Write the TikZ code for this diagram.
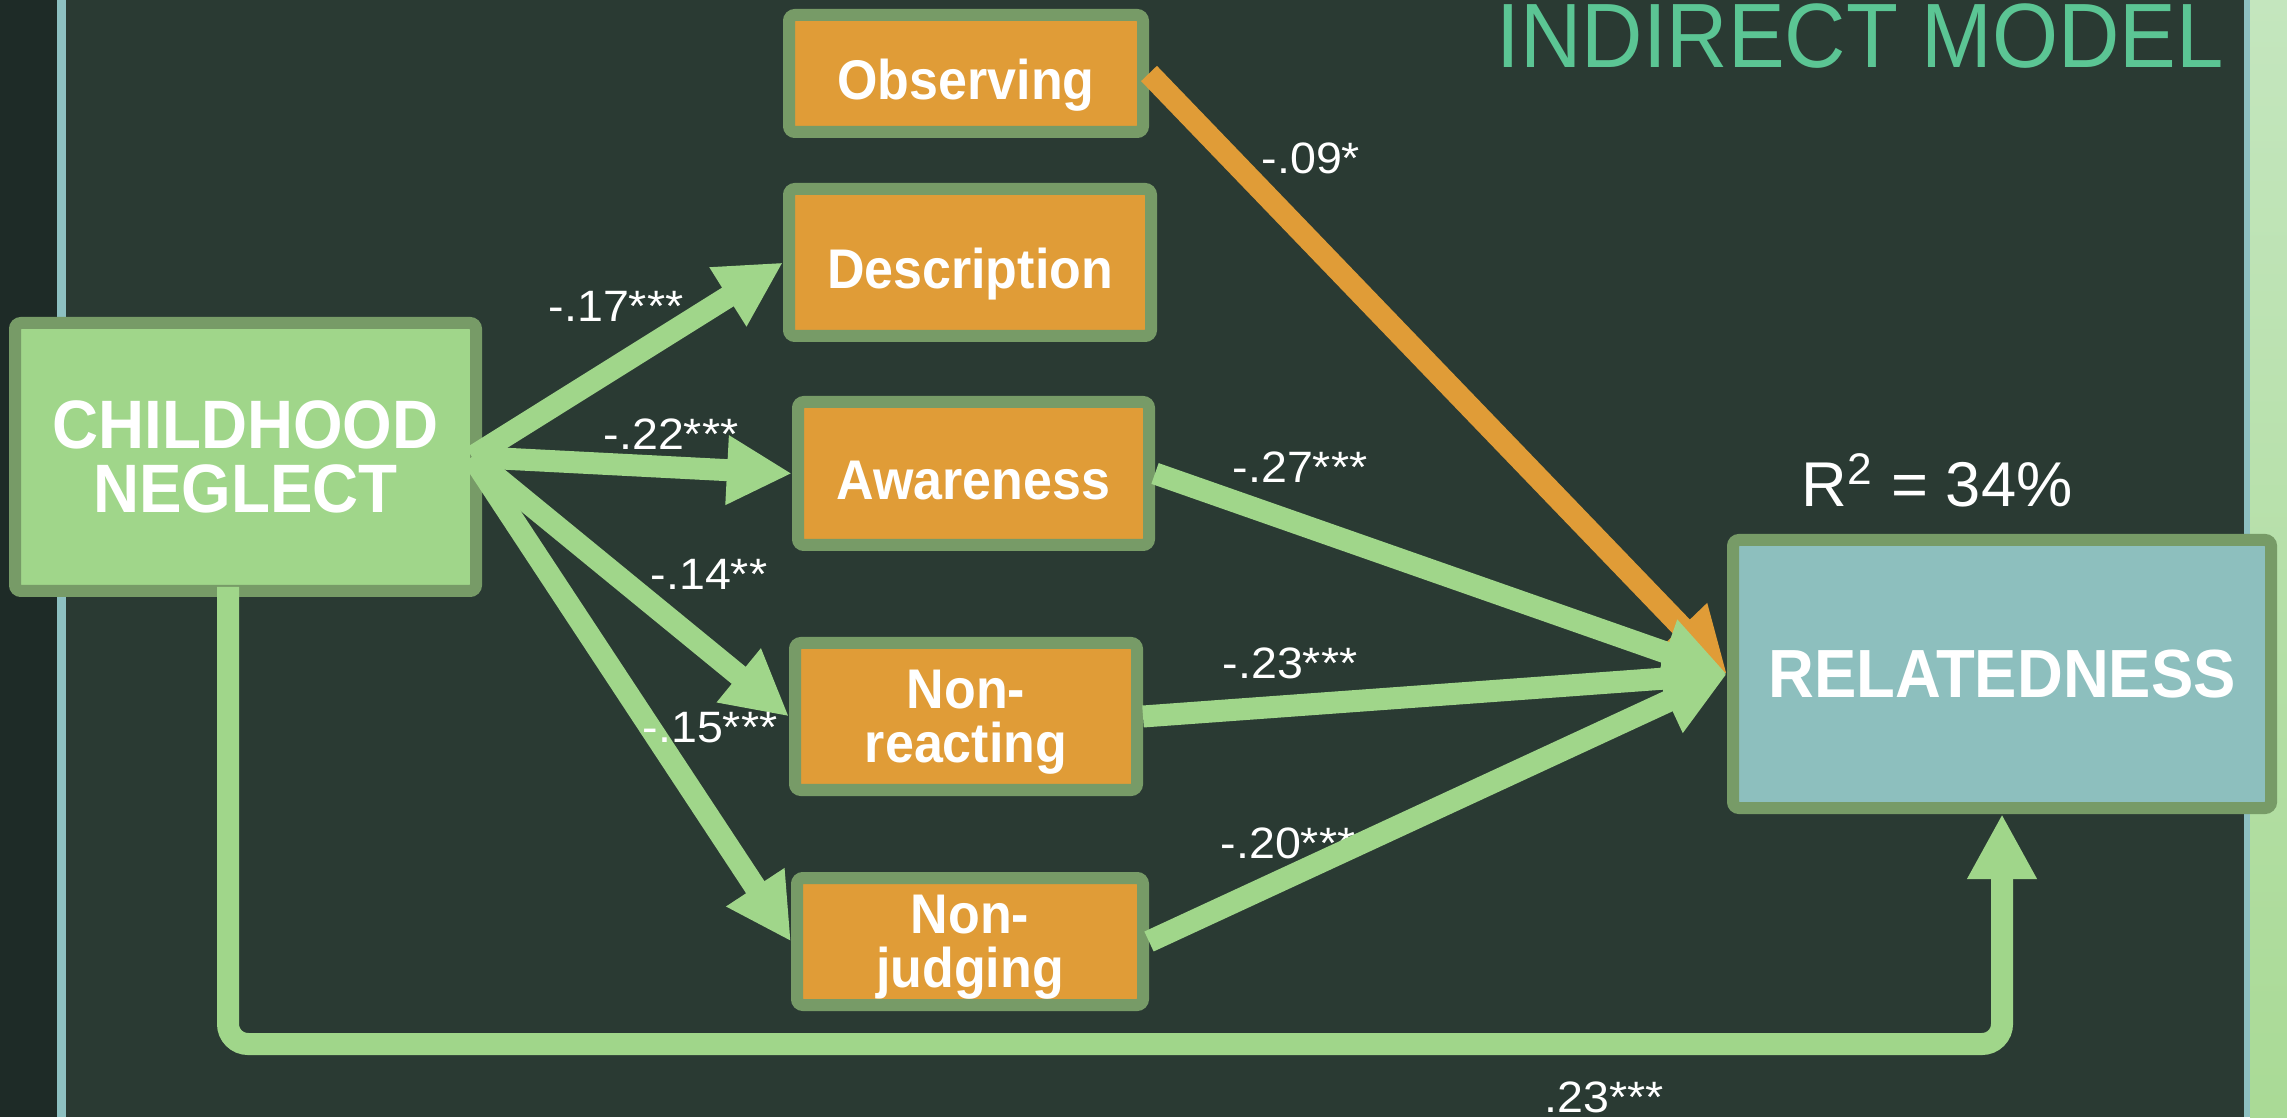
\documentclass[tikz,border=0pt]{standalone}
\usepackage{fontspec}
\setmainfont{Liberation Sans}
\newfontfamily\narrowfont[FakeStretch=0.93]{Liberation Sans}
\newfontfamily\widefont[FakeStretch=1.06]{Liberation Sans}
\usetikzlibrary{arrows.meta,positioning,calc}

\definecolor{slate}{HTML}{2A3A33}
\definecolor{slatedark}{HTML}{1E2B27}
\definecolor{stripeblue}{HTML}{8DC0C1}
\definecolor{stripegreen}{HTML}{C4E6BE}
\definecolor{leafgreen}{HTML}{A0D68A}
\definecolor{framegreen}{HTML}{779B67}
\definecolor{amber}{HTML}{E09C37}
\definecolor{outcomeblue}{HTML}{8DBFBE}
\definecolor{titlegreen}{HTML}{5BC594}

\tikzstyle{every node}=[inner sep=0pt]
\tikzstyle{box} = [draw=framegreen, line width=1.2mm, rounded corners=0.6mm, align=center, text=white]
\tikzstyle{factor} = [box, fill=amber, text depth=0pt, font=\narrowfont\bfseries\fontsize{15.9}{15.4}\selectfont]
\tikzstyle{oneline} = [text height=5.3mm]
\tikzstyle{coef} = [anchor=base west, text=white, font=\widefont\fontsize{12.5}{14}\selectfont]
\tikzstyle{path} = [draw=leafgreen, line width=2.2mm, ->]

\begin{document}
\begin{tikzpicture}[>={Triangle[length=6.5mm,width=6.5mm]}, line join=miter]
    \useasboundingbox (0,0) rectangle (22.87,11.17);
    % background
    \fill[slatedark] (0,0) rectangle (0.57,11.17);
    \fill[slate] (0.66,0) rectangle (22.44,11.17);
    \fill[stripeblue] (0.57,0) rectangle (0.66,11.17);
    \fill[stripeblue] (22.44,0) rectangle (22.50,11.17);
    \shade[top color=stripegreen, bottom color=leafgreen!90!white] (22.50,0) rectangle (22.87,11.17);

    \node[anchor=base west, text=titlegreen, font=\narrowfont\fontsize{26}{30}\selectfont] (title) at (14.96,10.49) {INDIRECT MODEL};

    \node[box, fill=leafgreen, minimum width=4.61cm, minimum height=2.68cm, font=\narrowfont\bfseries\fontsize{19.5}{18.2}\selectfont] (neglect) at (2.455,6.60) {CHILDHOOD\\NEGLECT};

    \node[factor, oneline, minimum width=3.54cm, minimum height=1.17cm] (observing) at (9.66,10.435) {Observing};
    \node[factor, oneline, minimum width=3.62cm, minimum height=1.47cm] (description) at (9.70,8.545) {Description};
    \node[factor, oneline, minimum width=3.51cm, minimum height=1.43cm] (awareness) at (9.735,6.435) {Awareness};
    \node[factor, minimum width=3.42cm, minimum height=1.47cm] (nonreacting) at (9.66,4.005) {Non-\\reacting};
    \node[factor, minimum width=3.46cm, minimum height=1.27cm] (nonjudging) at (9.70,1.755) {Non-\\judging};

    \node[box, fill=outcomeblue, minimum width=5.38cm, minimum height=2.68cm, font=\narrowfont\bfseries\fontsize{19.4}{22}\selectfont] (relatedness) at (20.02,4.43) {RELATEDNESS};
    \node[anchor=base west, text=white, font=\fontsize{18}{22}\selectfont] (rsquare) at (18.01,6.10) {R\textsuperscript{2} = 34\%};

    % -.20*** sits under its arrow
    \node[coef] (c20) at (12.20,2.59) {-.20***};

    \coordinate (src) at ($(neglect.east)+(-0.1,0)$);
    \draw[path] (src) -- (description.west);
    \draw[path] (src) -- (awareness.west);
    \draw[path] (src) -- (nonreacting.west);
    \draw[path] (src) -- (nonjudging.west);

    \draw[path, draw=amber] (observing.east) -- (relatedness.west);
    \draw[path] (awareness.east) -- (relatedness.west);
    \draw[path] (nonreacting.east) -- (relatedness.west);
    \draw[path] (nonjudging.east) -- (relatedness.west);

    \draw[path, rounded corners=2mm] ([xshift=2.19cm,yshift=1mm]neglect.south west) -- ++(0,-4.57) -| (relatedness.south);

    \node[coef] (c17) at (5.48,7.95) {-.17***};
    \node[coef] (c22) at (6.03,6.67) {-.22***};
    \node[coef] (c14) at (6.50,5.27) {-.14**};
    \node[coef] (c15) at (6.42,3.74) {-.15***};
    \node[coef] (c09) at (12.61,9.435) {-.09*};
    \node[coef] (c27) at (12.32,6.34) {-.27***};
    \node[coef] (c23) at (12.22,4.39) {-.23***};
    \node[coef] (cdir) at (15.44,0.05) {.23***};
\end{tikzpicture}
\end{document}
